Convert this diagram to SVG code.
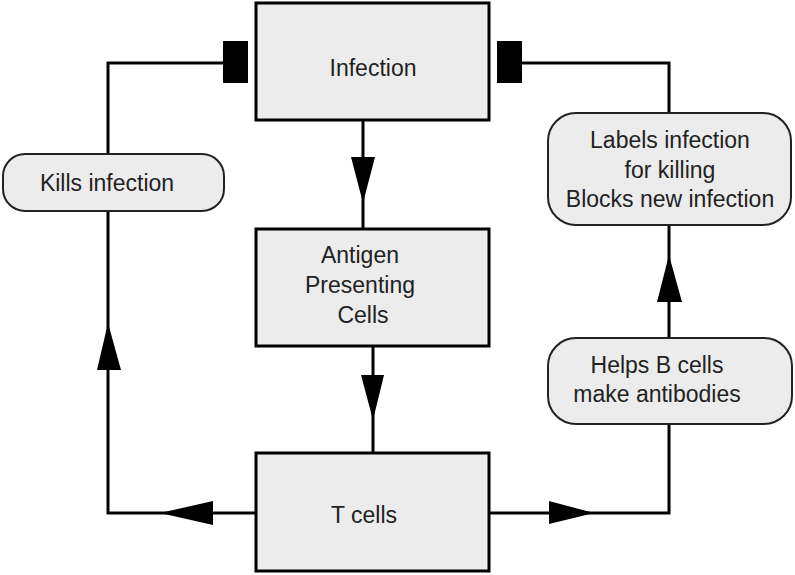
<svg xmlns="http://www.w3.org/2000/svg" width="795" height="575" viewBox="0 0 795 575">
<style>
.box{fill:#ececec;stroke:#000;stroke-width:3}
.pill{fill:#ececec;stroke:#222;stroke-width:2}
.ln{fill:none;stroke:#000;stroke-width:3}
.ah{fill:#000;stroke:none}
text{font-family:"Liberation Sans",Arial,sans-serif;font-size:23px;fill:#222;text-anchor:middle}
</style>
<rect width="795" height="575" fill="#fff"/>
<g id="connectors">
<line class="ln" x1="363" y1="120" x2="363" y2="229"/>
<polygon class="ah" points="351,157 375,157 363,203"/>
<line class="ln" x1="373" y1="346" x2="373" y2="453"/>
<polygon class="ah" points="361,375 384,375 373,420"/>
<polyline class="ln" points="256,513 108,513 108,63 223,63"/>
<polygon class="ah" points="213,501 213,525 160,513"/>
<polygon class="ah" points="97,370 121,370 108,323"/>
<rect class="ah" x="223" y="41" width="25" height="42"/>
<polyline class="ln" points="489,513 669,513 669,424"/>
<polygon class="ah" points="549,501 549,524 594,513"/>
<line class="ln" x1="669" y1="338" x2="669" y2="226"/>
<polygon class="ah" points="657,302 682,302 669,255"/>
<polyline class="ln" points="522,63 669,63 669,113"/>
<rect class="ah" x="497" y="41" width="25" height="42"/>
</g>
<g id="infection">
<rect class="box" x="256" y="3" width="233" height="117"/>
<text x="373" y="76">Infection</text>
</g>
<g id="apc">
<rect class="box" x="256" y="229" width="233" height="117"/>
<text x="360" y="263">Antigen</text>
<text x="360" y="293">Presenting</text>
<text x="363" y="323">Cells</text>
</g>
<g id="tcells">
<rect class="box" x="256" y="453" width="233" height="118"/>
<text x="364" y="523">T cells</text>
</g>
<g id="kills">
<rect class="pill" x="3" y="154" width="221" height="57" rx="22"/>
<text x="107" y="191">Kills infection</text>
</g>
<g id="labels">
<rect class="pill" x="548" y="113" width="243" height="112" rx="28"/>
<text x="670" y="148">Labels infection</text>
<text x="670" y="178">for killing</text>
<text x="670" y="207">Blocks new infection</text>
</g>
<g id="helps">
<rect class="pill" x="548" y="338" width="244" height="86" rx="28"/>
<text x="657" y="373">Helps B cells</text>
<text x="657" y="402">make antibodies</text>
</g>
</svg>
